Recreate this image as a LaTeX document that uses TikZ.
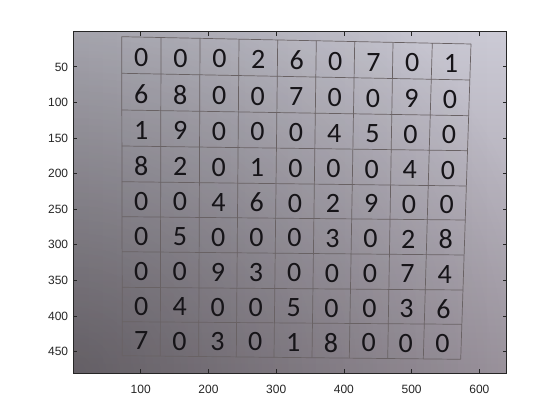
\documentclass[tikz,border=0pt]{standalone}
\usepackage{fontspec}
\usetikzlibrary{calc,fadings}
\newfontfamily\tickfont{Liberation Sans}
\newfontfamily\digfont{Carlito}
\definecolor{bgtop}{RGB}{204,203,214}
\definecolor{bgbot}{RGB}{158,150,160}
\definecolor{axcol}{RGB}{38,38,38}
\definecolor{gridcol}{RGB}{105,98,100}
\definecolor{digcol}{RGB}{22,20,24}
\tikzfading[name=vig, inner color=transparent!72, outer color=transparent!100]
\tikzfading[name=lfade, left color=transparent!88, right color=transparent!100]
\tikzset{
  digit/.style={font=\digfont\fontsize{28}{28}\selectfont, text=digcol, inner sep=0pt, anchor=center},
  ticklab/.style={font=\tickfont\fontsize{12}{12}\selectfont, text=axcol, inner sep=0pt},
  gridline/.style={draw=gridcol, line width=0.7pt},
  axisline/.style={draw=axcol, line width=0.8pt},
}
\begin{document}
\begin{tikzpicture}[x=1pt,y=1pt]
\useasboundingbox[fill=white] (0,0) rectangle (560,420);
% photo background
\coordinate (axNW) at (73.3,{420-31.7});
\coordinate (axSE) at (506.7,{420-373.3});
\shade[top color=bgtop, bottom color=bgbot] (axNW) rectangle (axSE);
\fill[black, path fading=lfade] (axNW) rectangle (axSE);
\begin{scope}
  \clip (axNW) rectangle (axSE);
  \fill[black, path fading=vig] (73.3,{420-373.3}) circle (480);
\end{scope}
% grid geometry
\def\XT{{121.7,161,200,239,277.7,316.3,354.7,393,432.3,471}}
\def\XB{{122.3,160.3,198.7,236.3,274,312,349.3,387.7,423.3,460.7}}
\def\YL{{36.7,73.3,110,146,181.7,216.7,251.7,287.3,321.7,355.7}}
\def\YR{{44,80,115.7,150.7,186,220,255,290,324.3,359.3}}
\foreach \i in {0,...,9}{
  \foreach \j in {0,...,9}{
    \pgfmathsetmacro\xt{\XT[\i]}
    \pgfmathsetmacro\xb{\XB[\i]}
    \pgfmathsetmacro\yl{\YL[\j]}
    \pgfmathsetmacro\yr{\YR[\j]}
    \pgfmathsetmacro\xx{\xt+(\xb-\xt)*\j/9}
    \pgfmathsetmacro\yy{\yl+(\yr-\yl)*\i/9}
    \coordinate (g-\i-\j) at (\xx,{420-\yy});
  }
}
\foreach \i in {0,...,9}{
  \draw[gridline] (g-\i-0) -- (g-\i-9);
  \draw[gridline] (g-0-\i) -- (g-9-\i);
}
% digits
\foreach \row [count=\r] in {{0,0,0,2,6,0,7,0,1},{6,8,0,0,7,0,0,9,0},{1,9,0,0,0,4,5,0,0},{8,2,0,1,0,0,0,4,0},{0,0,4,6,0,2,9,0,0},{0,5,0,0,0,3,0,2,8},{0,0,9,3,0,0,0,7,4},{0,4,0,0,5,0,0,3,6},{7,0,3,0,1,8,0,0,0}}{
  \foreach \d [count=\c] in \row {
    \pgfmathtruncatemacro\ci{\c-1}
    \pgfmathtruncatemacro\ri{\r-1}
    \node[digit] (d-\r-\c) at ($(g-\ci-\ri)!0.5!(g-\c-\r)+(0,-2)$) {\d};
  }
}
% axes frame and ticks
\draw[axisline] (axNW) rectangle (axSE);
\foreach \v/\px in {100/140.7,200/208.5,300/276.2,400/343.9,500/411.6,600/479.4}{
  \draw[axisline] (\px,{420-373.3}) -- ++(0,4);
  \draw[axisline] (\px,{420-31.7}) -- ++(0,-4);
  \node[ticklab, anchor=base] (xl-\v) at (\px,{420-393.3}) {\v};
}
\foreach \v/\py in {50/66.9,100/102.5,150/138.1,200/173.7,250/209.3,300/244.8,350/280.4,400/316.0,450/351.6}{
  \draw[axisline] (73.3,{420-\py}) -- ++(4,0);
  \draw[axisline] (506.7,{420-\py}) -- ++(-4,0);
  \node[ticklab, anchor=east] (yl-\v) at (68.3,{420-\py}) {\v};
}
\end{tikzpicture}
\end{document}
